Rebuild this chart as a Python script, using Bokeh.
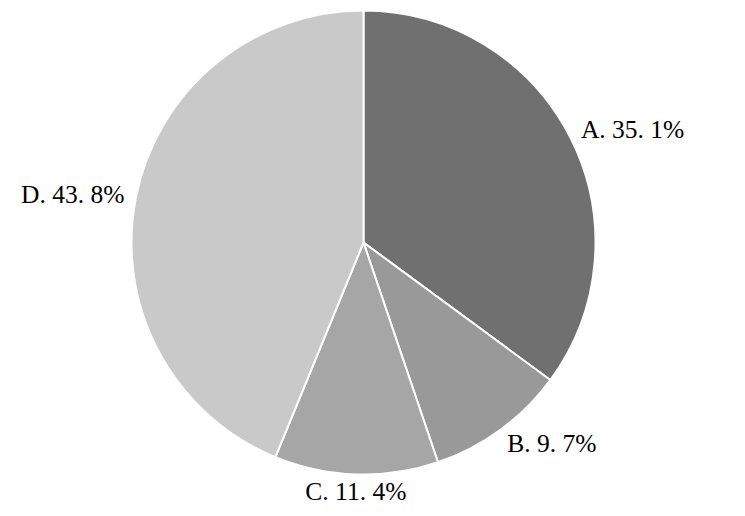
import math
from bokeh.plotting import figure
from bokeh.models import Range1d, ColumnDataSource
from bokeh.core.properties import value
from bokeh.embed import file_html
from bokeh.resources import INLINE

categories = ["A", "B", "C", "D"]
percents = [35.1, 9.7, 11.4, 43.8]
colors = ["#707070", "#999999", "#a6a6a6", "#c9c9c9"]

W, H = 737, 508
cx, cy, R = 363, 266, 232

p = figure(width=W, height=H, output_backend="svg", toolbar_location=None,
           x_range=Range1d(0, W), y_range=Range1d(0, H), min_border=0)
p.axis.visible = False
p.grid.visible = False
p.outline_line_color = None

total = sum(percents)
starts, ends, lx, ly, labels, aligns = [], [], [], [], [], []
cum = 0.0
for c, v in zip(categories, percents):
    a0 = math.pi / 2 - 2 * math.pi * (cum + v) / total
    a1 = math.pi / 2 - 2 * math.pi * cum / total
    starts.append(a0)
    ends.append(a1)
    mid = (a0 + a1) / 2
    lx.append(cx + R * 1.05 * math.cos(mid))
    ly.append(cy + R * 1.075 * math.sin(mid))
    cs = math.cos(mid)
    aligns.append("left" if cs > 0.15 else ("right" if cs < -0.15 else "center"))
    labels.append(f"{c}. " + f"{v:.1f}".replace(".", ". ") + "%")
    cum += v

src = ColumnDataSource(dict(start=starts, end=ends, color=colors,
                            x=[cx] * 4, y=[cy] * 4))
p.wedge(x="x", y="y", radius=R, start_angle="start", end_angle="end",
        fill_color="color", line_color="white", line_width=2, source=src)

tsrc = ColumnDataSource(dict(x=lx, y=ly, text=labels, align=aligns))
p.text(x="x", y="y", text="text", text_align="align", text_baseline="middle",
       text_font=value("Liberation Serif"), text_font_size="25.5px",
       text_color="#000000", source=tsrc)

open("out.html", "w").write(file_html(p, INLINE))
